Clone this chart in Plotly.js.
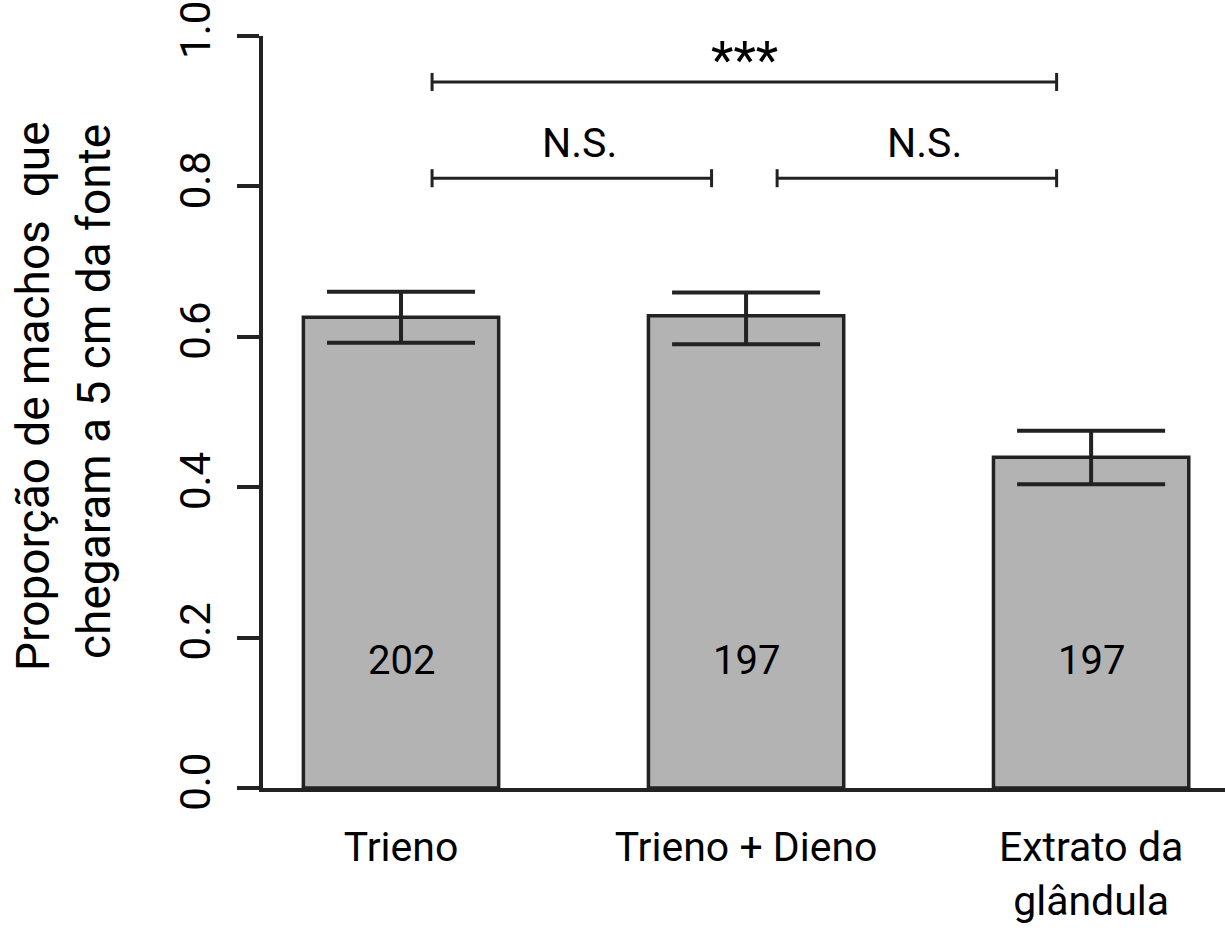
<!DOCTYPE html>
<html>
<head>
<meta charset="utf-8">
<script src="https://cdn.plot.ly/plotly-3.0.1.min.js"></script>
<style>html,body{margin:0;padding:0;background:#fff;}</style>
</head>
<body>
<div id="chart" style="width:1225px;height:928px;"></div>
<script>
// ---- data ----
var categories = ["Trieno", "Trieno + Dieno", "Extrato da<br>glândula"];
var proportions = [0.626, 0.628, 0.440];
var errUpper = [0.034, 0.031, 0.035];
var errLower = [0.034, 0.038, 0.036];
var sampleSizes = ["202", "197", "197"];
var yTickValues = [0.0, 0.2, 0.4, 0.6, 0.8, 1.0];
var comparisons = [
  {from: 0, to: 1, level: 0.811, label: "N.S."},
  {from: 1, to: 2, level: 0.811, label: "N.S."},
  {from: 0, to: 2, level: 0.939, label: "***"}
];
var yTitleLines = ["Proporção de machos  que", "chegaram a 5 cm da fonte"];

var FONT = "Roboto, 'Open Sans', sans-serif";
var INK = "#222222";
var idx = categories.map(function(_, i){ return i; });

var trace = {
  type: "bar",
  x: idx,
  y: proportions,
  width: 0.566,
  marker: {color: "#b3b3b3", line: {color: INK, width: 3.5}},
  error_y: {type: "data", symmetric: false, array: errUpper, arrayminus: errLower,
            color: INK, thickness: 4, width: 74},
  hoverinfo: "none"
};

var shapes = [];
var annotations = [];
comparisons.forEach(function(c){
  var x0 = c.from + 0.09, x1 = c.to - 0.1, tick = 0.012;
  shapes.push({type: "line", xref: "x", yref: "y", x0: x0, x1: x1, y0: c.level, y1: c.level,
               line: {color: INK, width: 3}});
  shapes.push({type: "line", xref: "x", yref: "y", x0: x0, x1: x0, y0: c.level - tick, y1: c.level + tick,
               line: {color: INK, width: 3}});
  shapes.push({type: "line", xref: "x", yref: "y", x0: x1, x1: x1, y0: c.level - tick, y1: c.level + tick,
               line: {color: INK, width: 3}});
  var isStar = c.label.indexOf("*") >= 0;
  annotations.push({xref: "x", yref: "y", x: (x0 + x1) / 2, y: c.level, text: c.label,
                    showarrow: false, xanchor: "center", yanchor: "bottom",
                    xshift: isStar ? 0 : 8, yshift: isStar ? -11 : 9,
                    font: {family: FONT, size: isStar ? 52 : 41, color: "#000"}});
});
sampleSizes.forEach(function(n, i){
  annotations.push({xref: "x", yref: "y", x: i, y: 0.17, text: n, showarrow: false,
                    xanchor: "center", yanchor: "middle",
                    font: {family: FONT, size: 40, color: "#000"}});
});
var titleShifts = [-230, -169];
var titleYShift = [16, 20];
yTitleLines.forEach(function(t, i){
  annotations.push({xref: "paper", yref: "paper", x: 0, y: 0.5, xshift: titleShifts[i], yshift: titleYShift[i],
                    text: t, textangle: -90, showarrow: false, xanchor: "center", yanchor: "middle",
                    font: {family: FONT, size: 46, color: "#000"}});
});

var layout = {
  width: 1225, height: 928,
  margin: {l: 263, r: 0, t: 36, b: 140, pad: 0},
  paper_bgcolor: "#fff", plot_bgcolor: "#fff",
  showlegend: false,
  xaxis: {
    range: [-0.4, 2.388], tickvals: idx, ticktext: categories,
    showline: true, linecolor: INK, linewidth: 4, ticks: "", showgrid: false, zeroline: false,
    tickfont: {family: FONT, size: 41, color: "#000"}, ticklabelstandoff: 20, fixedrange: true
  },
  yaxis: {
    range: [0, 1.0001], tickvals: yTickValues, tickformat: ".1f", tickangle: -90,
    showline: true, linecolor: INK, linewidth: 4, ticks: "outside", ticklen: 22, tickwidth: 4, tickcolor: INK,
    showgrid: false, zeroline: false, ticklabelstandoff: 10, ticklabeloverflow: "allow",
    tickfont: {family: FONT, size: 42, color: "#000"}, fixedrange: true
  },
  shapes: shapes,
  annotations: annotations
};

Plotly.newPlot("chart", [trace], layout, {displayModeBar: false, staticPlot: true});
</script>
</body>
</html>
